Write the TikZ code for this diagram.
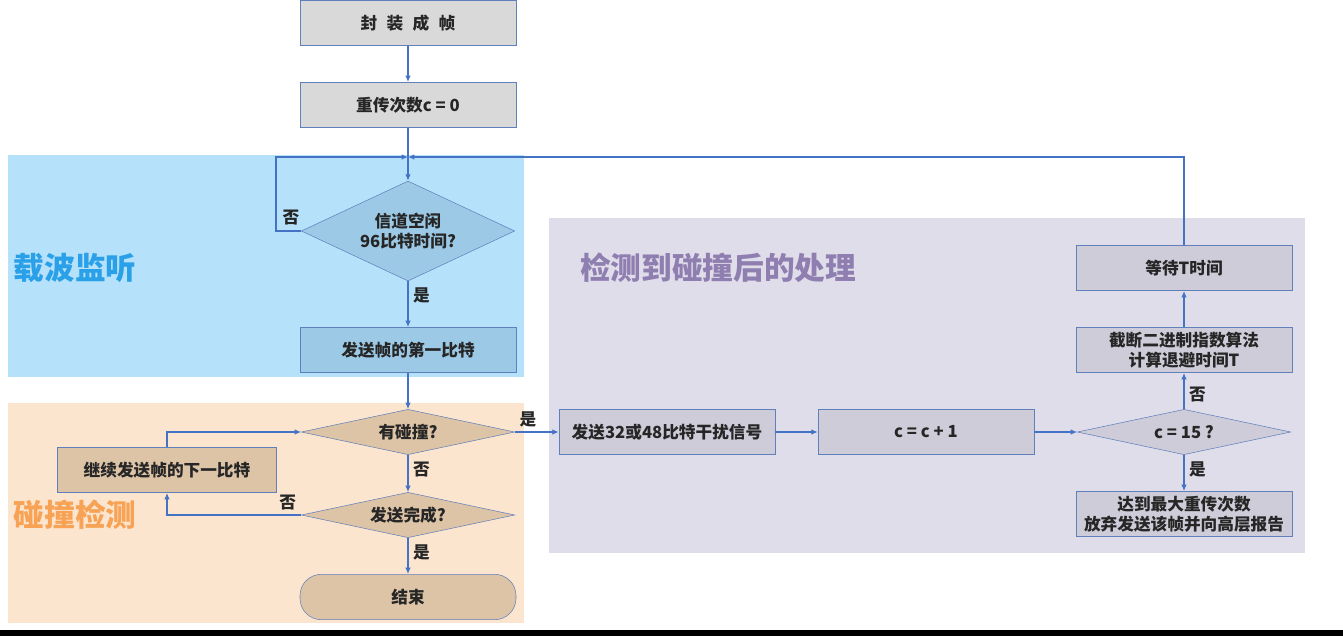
\documentclass[tikz,border=0pt]{standalone}
\usepackage{fontspec}
\setmainfont{Noto Sans CJK SC}
\usetikzlibrary{shapes.geometric, positioning, arrows.meta, calc}
\usepackage{xcolor}

\definecolor{ink}{RGB}{38,38,38}
\definecolor{linkblue}{RGB}{68,114,196}
\definecolor{edgeblue}{RGB}{96,128,188}
\definecolor{boxgray}{RGB}{217,217,217}
\definecolor{senseback}{RGB}{181,225,250}
\definecolor{sensefill}{RGB}{156,202,230}
\definecolor{sensetext}{RGB}{41,160,232}
\definecolor{collback}{RGB}{252,229,207}
\definecolor{collfill}{RGB}{221,196,167}
\definecolor{colltext}{RGB}{247,162,84}
\definecolor{handback}{RGB}{224,221,234}
\definecolor{handfill}{RGB}{206,204,216}
\definecolor{handtext}{RGB}{143,126,176}

\begin{document}
\begin{tikzpicture}[x=0.75pt, y=-0.75pt,
  stepbox/.style={
    draw=edgeblue, fill=boxgray, minimum width=162pt, minimum height=34pt,
    inner sep=0pt, align=center, text=ink,
    font=\bfseries\fontsize{12.5}{15}\selectfont},
  sensebox/.style={stepbox, fill=sensefill},
  collbox/.style={stepbox, fill=collfill},
  handbox/.style={stepbox, fill=handfill},
  decide/.style={
    draw=edgeblue, diamond, aspect=4.7, minimum width=160pt, minimum height=34pt,
    inner sep=0pt, align=center, text=ink,
    font=\bfseries\fontsize{12.5}{15}\selectfont},
  terminal/.style={collbox, rounded corners=16pt},
  flow/.style={-{Latex[length=1.7mm, width=1.5mm]}, linkblue, line width=1.1pt},
  answer/.style={font=\bfseries\fontsize{12.5}{14}\selectfont, text=ink},
  zone/.style={font=\bfseries\fontsize{23}{27}\selectfont}]

\useasboundingbox (0,0) rectangle (1343,636);

% --- background zones ---
\fill[senseback] (8,155) rectangle (524,377);
\fill[collback] (8,403) rectangle (524,623);
\fill[handback] (549,218) rectangle (1305,553);
\fill[black] (0,630) rectangle (1343,636);

\node[zone, text=sensetext] (zsense) at (75,268) {载波监听};
\node[zone, text=colltext] (zcoll) at (75,515) {碰撞检测};
\node[zone, text=handtext] (zhand) at (718,268) {检测到碰撞后的处理};

% --- main column ---
\node[stepbox] (frame) at (408,23)
  {封\hspace{7pt}装\hspace{7pt}成\hspace{7pt}帧};
\node[stepbox] (retx) at (408,105) {重传次数c = 0};
\coordinate (join) at (408,157);
\node[sensebox, decide, aspect=2.2, minimum height=75pt] (idle) at (408,231)
  {信道空闲\\96比特时间?};
\node[sensebox] (first) at (408,350) {发送帧的第一比特};
\node[collbox, decide] (coll) at (408,432) {有碰撞?};
\node[collbox, decide] (done) at (408,515) {发送完成?};
\node[terminal] (end) at (408,597) {结束};
\node[collbox, minimum width=164pt] (next) at (167,470) {继续发送帧的下一比特};

% --- collision handling ---
\node[handbox] (jam) at (667,432) {发送32或48比特干扰信号};
\node[handbox] (inc) at (926,432) {c = c + 1};
\node[handbox, decide] (limit) at (1184,432) {c = 15 ?};
\node[handbox] (backoff) at (1184,350) {截断二进制指数算法\\计算退避时间T};
\node[handbox] (wait) at (1184,268) {等待T时间};
\node[handbox] (abort) at (1184,514) {达到最大重传次数\\放弃发送该帧并向高层报告};

% --- connectors ---
\draw[flow] (frame) -- (retx);
\draw[flow] (retx) -- (idle);
\draw[flow] (idle.west) -- ++(-25,0) |- (join);
\node[answer] (idleno) at (291,218) {否};
\draw[flow] (idle) -- node[answer, right, pos=0.3] (idleyes) {是} (first);
\draw[flow] (first) -- (coll);
\draw[flow] (coll) -- node[answer, pos=0.3, above] (collyes) {是} (jam);
\draw[flow] (coll) -- node[answer, right, pos=0.4] (collno) {否} (done);
\draw[flow] (done) -- node[answer, right, pos=0.4] (doneyes) {是} (end);
\draw[flow] (done.west) -| node[answer, pos=0.05, above] (doneno) {否} (next.south);
\draw[flow] (next.north) |- (coll.west);
\draw[flow] (jam) -- (inc);
\draw[flow] (inc) -- (limit);
\draw[flow] (limit) -- node[answer, right, pos=0.4] (limitno) {否} (backoff);
\draw[flow] (backoff) -- (wait);
\draw[flow] (limit) -- node[answer, right, pos=0.4] (limityes) {是} (abort);
\draw[flow] (wait.north) |- (join);
\end{tikzpicture}
\end{document}
